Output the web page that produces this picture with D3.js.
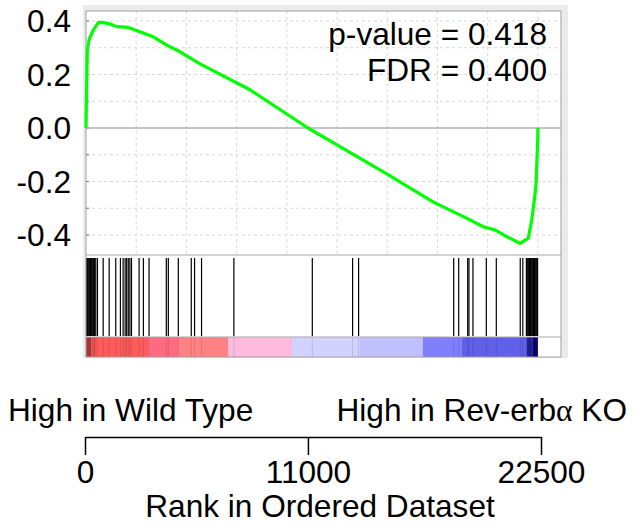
<!DOCTYPE html>
<html>
<head>
<meta charset="utf-8">
<script src="https://cdn.jsdelivr.net/npm/d3@7"></script>
<style>
  body { margin: 0; background: #fff; }
  text { font-family: "Liberation Sans", Arial, sans-serif; fill: #000; }
</style>
</head>
<body>
<div id="chart"></div>
<script>
// running enrichment score
const esRanks  = [0, 30, 65, 150, 360, 610, 780, 1200, 1530, 2110, 2690, 3350, 4020, 4680, 5680, 8165, 11053, 12647, 14788, 17277, 18970, 19781, 20364, 20947, 21608, 22022, 22191, 22321, 22405, 22490, 22500];
const esScores = [0, 0.15, 0.29, 0.33, 0.366, 0.394, 0.395, 0.389, 0.379, 0.376, 0.36, 0.341, 0.31, 0.285, 0.24, 0.143, 0.0, -0.07, -0.163, -0.276, -0.338, -0.369, -0.381, -0.406, -0.431, -0.412, -0.344, -0.269, -0.213, -0.045, 0];

// gene set hits (rank positions)
const hitRanks = [0, 40, 80, 120, 160, 200, 240, 280, 320, 360, 400, 462, 546, 830, 1128, 1456, 1689, 1823, 1923,
  2000, 2080, 2160, 2240, 2618, 2832, 3115, 3974, 4074, 4571, 5216, 5380, 5728, 7338, 11243, 13250, 13548,
  18282, 18531, 18978, 19043, 19241, 19907, 20404, 21596, 21725,
  21900, 21940, 21980, 22020, 22060, 22100, 22140, 22180, 22220, 22260, 22300, 22340, 22380, 22420, 22460];

// ranked list metric colour bar
const barBreaks = [0, 264, 3087, 4581, 7070, 10257, 13643, 16765, 18721, 21958, 22250, 22500];
const barFills  = ["#c93d3d", "#ff5b5b", "#ff6b80", "#ff8282", "#ffbbdd", "#d2d2ff", "#c0c0ff", "#8080ff", "#6060e8", "#2a22a8", "#0a0880"];

const yTicks = [-0.4, -0.3, -0.2, -0.1, 0, 0.1, 0.2, 0.3, 0.4];
const yLabels = [-0.4, -0.2, 0, 0.2, 0.4];
const xGrid = [2500, 5000, 7500, 10000, 12500, 15000, 17500, 20000, 22500];
const rankTicks = [0, 11000, 22500];

const stats = ["p-value = 0.418", "FDR = 0.400"];

const width = 637, height = 529;
const box = {left: 86, right: 561, top: 11, esBottom: 255, hitBottom: 337, bottom: 357};
const fs = 31.6;

const svg = d3.select("#chart").append("svg")
    .attr("width", width)
    .attr("height", height);

const x = d3.scaleLinear().domain([0, 23650]).range([box.left, box.right]);
const y = d3.scaleLinear().domain([-0.4, 0.4]).range([235, 21]);

// frame
svg.append("rect")
    .attr("x", box.left - 3).attr("y", box.top - 6)
    .attr("width", box.right - box.left + 10).attr("height", box.bottom - box.top + 7)
    .attr("fill", "#ebebeb");
svg.append("rect")
    .attr("x", box.left).attr("y", box.top)
    .attr("width", box.right - box.left).attr("height", box.bottom - box.top)
    .attr("fill", "#fff");

// grid
svg.append("g").selectAll("line")
    .data(yTicks.filter(d => d !== 0))
    .enter().append("line")
    .attr("x1", box.left).attr("x2", box.right)
    .attr("y1", d => y(d)).attr("y2", d => y(d))
    .attr("stroke", "#d8d8d8").attr("stroke-dasharray", "3,3");
svg.append("g").selectAll("line")
    .data(xGrid)
    .enter().append("line")
    .attr("x1", d => x(d)).attr("x2", d => x(d))
    .attr("y1", box.top).attr("y2", box.esBottom)
    .attr("stroke", "#d8d8d8").attr("stroke-dasharray", "3,3");

// small inner ticks on the left
svg.append("g").selectAll("line")
    .data(yTicks)
    .enter().append("line")
    .attr("x1", box.left).attr("x2", box.left + 3)
    .attr("y1", d => y(d)).attr("y2", d => y(d))
    .attr("stroke", "#777");

// zero line
svg.append("line")
    .attr("x1", box.left).attr("x2", box.right)
    .attr("y1", y(0)).attr("y2", y(0))
    .attr("stroke", "#8a8a8a");

// colour bar
svg.append("g").selectAll("rect")
    .data(barFills)
    .enter().append("rect")
    .attr("x", (d, i) => x(barBreaks[i]))
    .attr("width", (d, i) => x(barBreaks[i + 1]) - x(barBreaks[i]))
    .attr("y", box.hitBottom).attr("height", box.bottom - box.hitBottom)
    .attr("fill", d => d);

// hits
svg.append("g").selectAll("line")
    .data(hitRanks)
    .enter().append("line")
    .attr("x1", d => x(d) + 0.5).attr("x2", d => x(d) + 0.5)
    .attr("y1", 258).attr("y2", 336)
    .attr("stroke", "#000").attr("stroke-width", 1.2);
svg.append("g").selectAll("line")
    .data(hitRanks)
    .enter().append("line")
    .attr("x1", d => x(d) + 0.5).attr("x2", d => x(d) + 0.5)
    .attr("y1", box.hitBottom).attr("y2", box.bottom)
    .attr("stroke", "#000").attr("stroke-opacity", 0.12);

// dividers and border
[box.esBottom, box.hitBottom].forEach(v => {
  svg.append("line")
      .attr("x1", box.left).attr("x2", box.right)
      .attr("y1", v).attr("y2", v)
      .attr("stroke", "#a8a8a8");
});
svg.append("rect")
    .attr("x", box.left).attr("y", box.top)
    .attr("width", box.right - box.left).attr("height", box.bottom - box.top)
    .attr("fill", "none").attr("stroke", "#a0a0a0");

// running ES curve
const pts = esRanks.map((r, i) => [r, esScores[i]]);
svg.append("path")
    .datum(pts)
    .attr("fill", "none")
    .attr("stroke", "#00ff00")
    .attr("stroke-width", 3.2)
    .attr("stroke-linejoin", "round")
    .attr("d", d3.line().x(d => x(d[0])).y(d => y(d[1])));

// y labels (plain hyphen for negatives)
svg.append("g").selectAll("text")
    .data(yLabels)
    .enter().append("text")
    .attr("x", 71)
    .attr("y", d => y(d))
    .attr("dy", "0.36em")
    .attr("text-anchor", "end")
    .style("font-size", fs + "px")
    .text(d => d.toFixed(1));

// stats
svg.append("g").selectAll("text")
    .data(stats)
    .enter().append("text")
    .attr("x", 547)
    .attr("y", (d, i) => 45 + i * 36)
    .attr("text-anchor", "end")
    .style("font-size", fs + "px")
    .text(d => d);

// rank axis
const xr = d3.scaleLinear().domain([0, 22500]).range([85, 541]);
const rankAxis = svg.append("g")
    .attr("transform", "translate(0,437)")
    .call(d3.axisBottom(xr).tickValues(rankTicks).tickSize(18).tickSizeOuter(0).tickPadding(6)
      .tickFormat(d3.format("d")));
rankAxis.selectAll("path, line").attr("stroke", "#000").attr("stroke-width", 1.5);
rankAxis.selectAll("text")
    .style("font-size", fs + "px")
    .style("font-family", "'Liberation Sans', Arial, sans-serif")
    .attr("fill", "#000");

svg.append("text")
    .attr("x", 8).attr("y", 421)
    .style("font-size", fs + "px")
    .text("High in Wild Type");
const rev = svg.append("text")
    .attr("x", 627).attr("y", 421)
    .attr("text-anchor", "end")
    .style("font-size", fs + "px");
rev.append("tspan").text("High in Rev-erb");
rev.append("tspan").style("font-family", "'Liberation Serif', serif").text("\u03b1");
rev.append("tspan").text(" KO");

svg.append("text")
    .attr("x", 320).attr("y", 517)
    .attr("text-anchor", "middle")
    .style("font-size", fs + "px")
    .text("Rank in Ordered Dataset");
</script>
</body>
</html>
